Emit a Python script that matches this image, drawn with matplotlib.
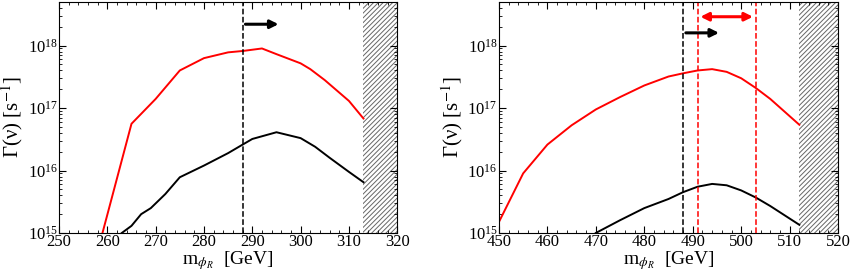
import numpy as np
import matplotlib.pyplot as plt
from matplotlib.ticker import MultipleLocator, LogLocator, LogFormatterMathtext, NullFormatter

plt.rcParams['font.family'] = ['Liberation Serif', 'DejaVu Serif']
plt.rcParams['mathtext.fontset'] = 'stix'
plt.rcParams['hatch.linewidth'] = 0.7
plt.rcParams['hatch.color'] = '#666666'

# left panel
m_red_L = [259, 265, 270, 275, 280, 285, 288, 292, 295, 300, 302, 305, 310, 313]
g_red_L = [1e15, 5.6e16, 1.4e17, 4.0e17, 6.3e17, 7.8e17, 8.2e17, 9.0e17, 7.3e17, 5.2e17, 4.2e17, 2.8e17, 1.3e17, 6.8e16]
m_blk_L = [263, 265, 267, 269, 272, 275, 280, 285, 288, 290, 295, 300, 303, 306, 310, 313]
g_blk_L = [1e15, 1.3e15, 2.0e15, 2.5e15, 4.2e15, 7.8e15, 1.2e16, 1.9e16, 2.6e16, 3.2e16, 4.1e16, 3.3e16, 2.4e16, 1.6e16, 9.5e15, 6.5e15]
cut_L = 288
excl_L = (313, 320)
arrow_L = (288, 296, 2.2e18)

# right panel
m_red_R = [450, 455, 460, 465, 470, 475, 480, 485, 488, 491, 494, 497, 500, 503, 506, 512]
g_red_R = [1.5e15, 9e15, 2.6e16, 5.3e16, 9.5e16, 1.5e17, 2.3e17, 3.2e17, 3.6e17, 4.0e17, 4.2e17, 3.8e17, 3.0e17, 2.1e17, 1.4e17, 5.4e16]
m_blk_R = [470, 475, 480, 485, 488, 491, 494, 497, 500, 503, 506, 512]
g_blk_R = [1e15, 1.6e15, 2.5e15, 3.5e15, 4.5e15, 5.5e15, 6.1e15, 5.8e15, 4.8e15, 3.7e15, 2.7e15, 1.35e15]
cut_R = 488
red_band_R = (491, 503)
excl_R = (512, 520)
arrow_R = (488, 496, 1.6e18)
arrow_red_R = (491, 503, 2.9e18)

fig = plt.figure(figsize=(8.5, 2.8), dpi=100)
axL = fig.add_axes([0.0694, 0.168, 0.398, 0.825])
axR = fig.add_axes([0.587, 0.168, 0.399, 0.825])


def style(ax, xlim):
    ax.set_yscale('log')
    ax.set_xlim(*xlim)
    ax.set_ylim(1e15, 5e18)
    ax.xaxis.set_major_locator(MultipleLocator(10))
    ax.xaxis.set_minor_locator(MultipleLocator(2))
    ax.yaxis.set_major_locator(LogLocator(base=10, numticks=10))
    ax.yaxis.set_minor_locator(LogLocator(base=10, subs=np.arange(2, 10), numticks=10))
    ax.yaxis.set_major_formatter(LogFormatterMathtext())
    ax.yaxis.set_minor_formatter(NullFormatter())
    ax.tick_params(which='both', direction='in', top=True, right=True, labelsize=12, pad=1)
    ax.tick_params(which='major', length=5)
    ax.tick_params(which='minor', length=2.5)
    ax.set_xlabel(r'm$_{\phi_R}$  [GeV]', fontsize=14, labelpad=-1)
    ax.set_ylabel(r'Γ(ν) [s$^{-1}$]', fontsize=15)
    ax.yaxis.set_label_coords(-0.1, 0.5)


style(axL, (250, 320))
axL.plot(m_red_L, g_red_L, color='red', lw=1.4)
axL.plot(m_blk_L, g_blk_L, color='black', lw=1.4)
axL.axvline(cut_L, color='black', ls='--', lw=1.1)
axL.axvspan(*excl_L, facecolor='white', edgecolor='#666666', hatch='///////', lw=0)
axL.annotate('', xy=(arrow_L[1], arrow_L[2]), xytext=(arrow_L[0], arrow_L[2]),
             arrowprops=dict(arrowstyle='-|>', color='black', lw=2.2, mutation_scale=12))

style(axR, (450, 520))
axR.plot(m_red_R, g_red_R, color='red', lw=1.4)
axR.plot(m_blk_R, g_blk_R, color='black', lw=1.4)
axR.axvline(cut_R, color='black', ls='--', lw=1.1)
for xv in red_band_R:
    axR.axvline(xv, color='red', ls='--', lw=1.1)
axR.axvspan(*excl_R, facecolor='white', edgecolor='#666666', hatch='///////', lw=0)
axR.annotate('', xy=(arrow_R[1], arrow_R[2]), xytext=(arrow_R[0], arrow_R[2]),
             arrowprops=dict(arrowstyle='-|>', color='black', lw=2.2, mutation_scale=12))
axR.annotate('', xy=(arrow_red_R[1], arrow_red_R[2]), xytext=(arrow_red_R[0], arrow_red_R[2]),
             arrowprops=dict(arrowstyle='<|-|>', color='red', lw=2.2, mutation_scale=12))

fig.savefig('out.png', dpi=100)
